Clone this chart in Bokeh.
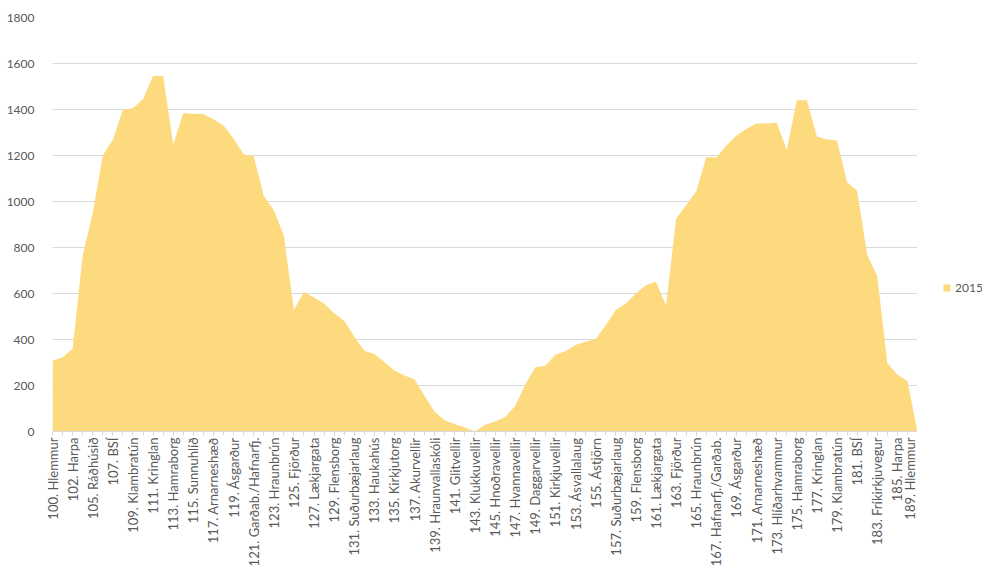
from math import pi

from bokeh.embed import file_html
from bokeh.layouts import row
from bokeh.models import FixedTicker, Legend, LegendItem
from bokeh.plotting import figure
from bokeh.resources import INLINE

# Stops along the route; only every other stop carries a visible label
stop_labels = [
    "100. Hlemmur", "102. Harpa", "105. Ráðhúsið", "107. BSÍ", "109. Klambratún",
    "111. Kringlan", "113. Hamraborg", "115. Sunnuhlíð", "117. Arnarneshæð",
    "119. Ásgarður", "121. Garðab./Hafnarfj.", "123. Hraunbrún", "125. Fjörður",
    "127. Lækjargata", "129. Flensborg", "131. Suðurbæjarlaug", "133. Haukahús",
    "135. Kirkjutorg", "137. Akurvellir", "139. Hraunvallaskóli", "141. Glitvellir",
    "143. Klukkuvellir", "145. Hnoðravellir", "147. Hvannavellir", "149. Daggarvellir",
    "151. Kirkjuvellir", "153. Ásvallalaug", "155. Ástjörn", "157. Suðurbæjarlaug",
    "159. Flensborg", "161. Lækjargata", "163. Fjörður", "165. Hraunbrún",
    "167. Hafnarfj./Garðab.", "169. Ásgarður", "171. Arnarneshæð",
    "173. Hlíðarhvammur", "175. Hamraborg", "177. Kringlan", "179. Klambratún",
    "181. BSÍ", "183. Fríkirkjuvegur", "185. Harpa", "189. Hlemmur",
]

# Passengers on board between stops, 2015
passengers_2015 = [
    308, 322, 360, 765, 950, 1200, 1268, 1400, 1405, 1445,
    1546, 1546, 1248, 1385, 1381, 1380, 1358, 1330, 1274, 1205,
    1198, 1025, 962, 852, 528, 608, 583, 557, 514, 481,
    413, 351, 337, 302, 265, 243, 226, 154, 85, 49,
    32, 17, 0, 29, 43, 63, 111, 204, 279, 286,
    334, 349, 376, 390, 402, 462, 528, 557, 600, 636,
    651, 548, 926, 984, 1043, 1192, 1191, 1243, 1287, 1316,
    1339, 1339, 1342, 1224, 1440, 1440, 1283, 1270, 1265, 1085,
    1047, 768, 675, 298, 248, 218, 0,
]

y_ticks = list(range(0, 1801, 200))
series_name = "2015"

n = len(passengers_2015)
xs = list(range(n))
label_positions = list(range(0, n, 2))

GRID = "#d9d9d9"
TEXT = "#595959"
FILL = "#fdda7e"

p = figure(
    width=917,
    height=569,
    x_range=(0, n - 1),
    y_range=(0, 1800),
    output_backend="svg",
    toolbar_location=None,
    min_border_left=52,
    min_border_right=0,
    min_border_top=17,
    min_border_bottom=135,
)
p.outline_line_color = None
p.background_fill_color = "white"
p.border_fill_color = "white"

p.varea(x=xs, y1=0, y2=passengers_2015, fill_color=FILL, fill_alpha=1.0)

# x axis: stop names written vertically under every other stop
xa = p.xaxis[0]
xa.ticker = FixedTicker(ticks=label_positions, minor_ticks=xs)
xa.major_label_overrides = {i: lab for i, lab in zip(label_positions, stop_labels)}
xa.major_label_orientation = pi / 2
xa.major_label_text_font = "Lato"
xa.major_label_text_font_size = "13px"
xa.major_label_text_color = TEXT
xa.major_label_standoff = 2
xa.axis_line_color = GRID
xa.major_tick_line_color = GRID
xa.minor_tick_line_color = GRID
xa.major_tick_in = 0
xa.major_tick_out = 4
xa.minor_tick_in = 0
xa.minor_tick_out = 4

# y axis: labels only, no line or ticks
ya = p.yaxis[0]
ya.ticker = FixedTicker(ticks=y_ticks)
ya.major_label_text_font = "Lato"
ya.major_label_text_font_size = "12px"
ya.major_label_text_color = TEXT
ya.major_label_standoff = 12
ya.axis_line_color = None
ya.major_tick_line_color = None
ya.minor_tick_line_color = None

p.xgrid.grid_line_color = None
p.ygrid.ticker = FixedTicker(ticks=y_ticks)
p.ygrid.grid_line_color = GRID
p.ygrid.grid_line_width = 1

# narrow side panel holding the series legend
side = figure(
    width=65,
    height=569,
    x_range=(0, 1),
    y_range=(0, 1),
    x_axis_type=None,
    y_axis_type=None,
    output_backend="svg",
    toolbar_location=None,
    min_border=0,
)
side.outline_line_color = None
side.grid.grid_line_color = None
side.background_fill_color = "white"
side.border_fill_color = "white"
# swatch renderer lies outside the visible ranges; only its legend glyph shows
swatch = side.varea(x=[5, 6], y1=[5, 5], y2=[6, 6], fill_color=FILL, fill_alpha=1.0)

legend = Legend(
    items=[LegendItem(label=series_name, renderers=[swatch])],
    location=(25, 136),
    orientation="vertical",
    glyph_width=9,
    glyph_height=9,
    label_standoff=4,
    padding=0,
    margin=0,
    spacing=0,
    label_text_font="Lato",
    label_text_font_size="12px",
    label_text_color=TEXT,
    border_line_color=None,
    background_fill_alpha=0,
)
side.add_layout(legend, "center")

layout = row(p, side, spacing=0)
open("out.html", "w").write(file_html(layout, INLINE))
